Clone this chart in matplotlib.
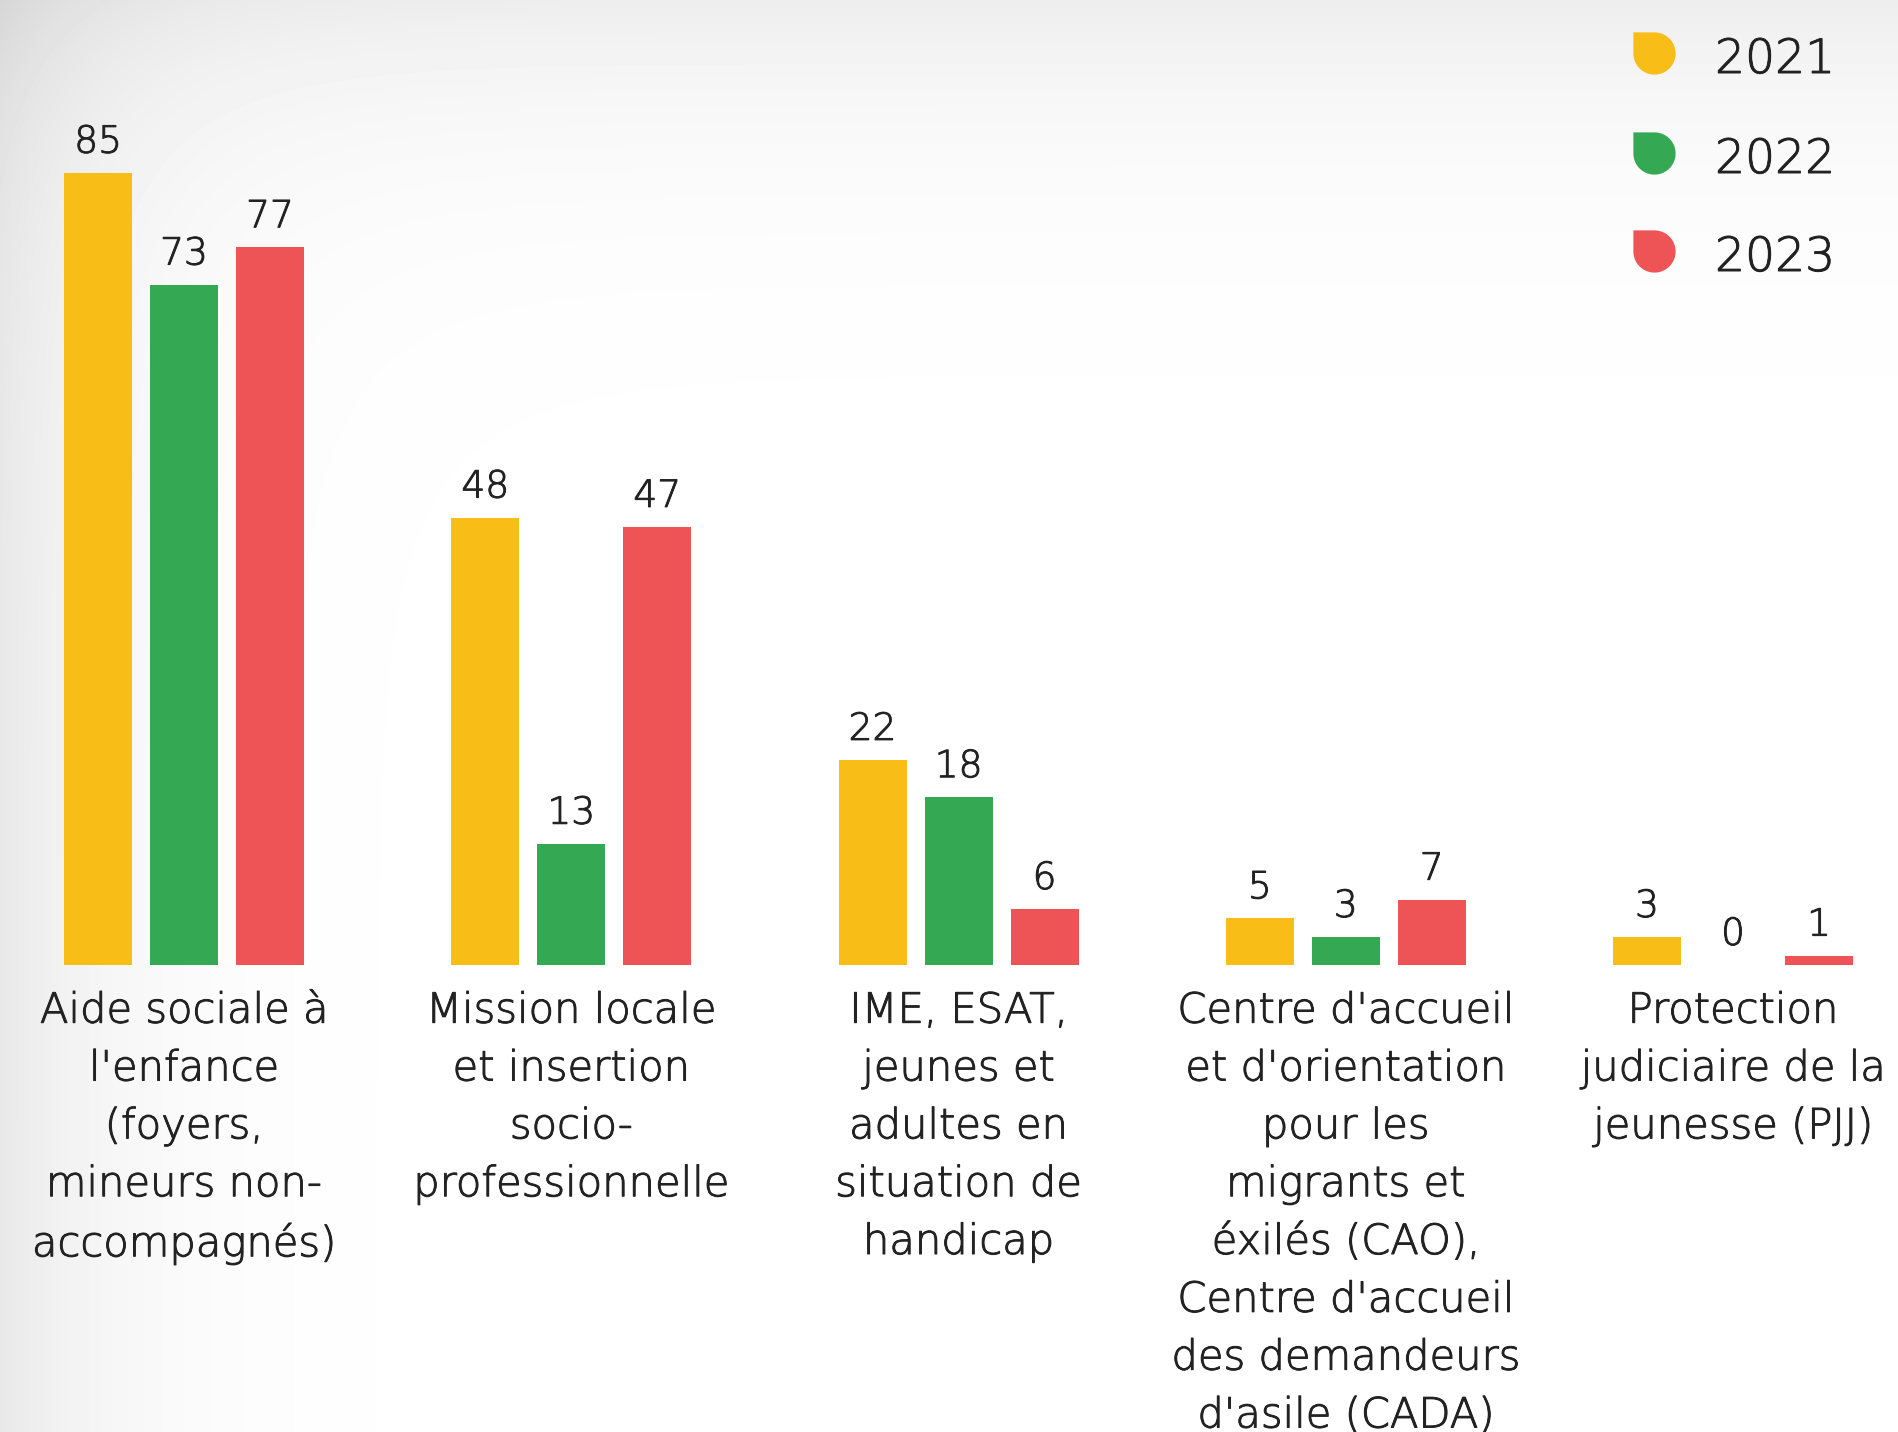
import numpy as np
import matplotlib.pyplot as plt
import matplotlib.patheffects as pe
from matplotlib.path import Path

# Daten
categories = [
    "Aide sociale à\nl'enfance\n(foyers,\nmineurs non-\naccompagnés)",
    "Mission locale\net insertion\nsocio-\nprofessionnelle",
    "IME, ESAT,\njeunes et\nadultes en\nsituation de\nhandicap",
    "Centre d'accueil\net d'orientation\npour les\nmigrants et\néxilés (CAO),\nCentre d'accueil\ndes demandeurs\nd'asile (CADA)",
    "Protection\njudiciaire de la\njeunesse (PJJ)",
]
years = ['2021', '2022', '2023']
v2021 = [85, 48, 22, 5, 3]
v2022 = [73, 13, 18, 3, 0]
v2023 = [77, 47, 6, 7, 1]
colors = ['#F8BD17', '#34A853', '#EE5455']

plt.rcParams['font.family'] = ['DejaVu Sans']
txt_col = '#222222'
# etwas dickere Striche fuer die duenne Schrift
thick = [pe.withStroke(linewidth=0.7, foreground=txt_col)]

W, H = 1898, 1432
fig = plt.figure(figsize=(W / 100, H / 100), dpi=100)

# Hintergrund mit leichtem Verlauf
bg = fig.add_axes([0, 0, 1, 1])
bg.set_xlim(0, W)
bg.set_ylim(H, 0)
bg.axis('off')
X, Y = np.meshgrid(np.arange(W), np.arange(H))
val = 1 - 0.09 * np.exp(-X / 120) - 0.07 * np.exp(-Y / 130)
bg.imshow(val, cmap='gray', vmin=0, vmax=1, extent=(0, W, H, 0), aspect='auto')

# Legende (Tropfen-Marker)
arc = Path.arc(180, 450)
verts = np.vstack([arc.vertices, [[-1, 1], [-1, 0]]])
codes = list(arc.codes) + [Path.LINETO, Path.CLOSEPOLY]
drop = Path(verts, codes)
leg_y = [53, 153, 251]
for yr, c, ly in zip(years, colors, leg_y):
    bg.scatter([1654], [ly], marker=drop, s=31 ** 2, color=c, linewidths=0)
    bg.text(1715, ly + 7, yr, fontsize=34, color=txt_col, va='center', ha='left',
            fontweight='light', path_effects=thick)

# Balken
ax = fig.add_axes([0, 0, 1, 1], facecolor='none')
gx, x0 = 387.25, 184
gy, base = 9.32, 965
ax.set_xlim(-x0 / gx, (W - x0) / gx)
ax.set_ylim(-(H - base) / gy, base / gy)
ax.axis('off')

x = np.arange(len(categories))
off = 86 / gx
bw = 68 / gx
for i, (vals, c) in enumerate(zip([v2021, v2022, v2023], colors)):
    xs = x + (i - 1) * off
    ax.bar(xs, vals, width=bw, color=c)
    for xi, v in zip(xs, vals):
        ax.annotate(str(v), (xi, v), xytext=(0, 22), textcoords='offset points',
                    ha='center', va='center', fontsize=27, color=txt_col,
                    fontweight='light', path_effects=thick)

for xi, lab in zip(x, categories):
    ax.text(xi, -2.65, lab, ha='center', va='top', fontsize=30, color=txt_col,
            linespacing=1.51, fontweight='light', path_effects=thick)

fig.savefig('out.png', dpi=100)
